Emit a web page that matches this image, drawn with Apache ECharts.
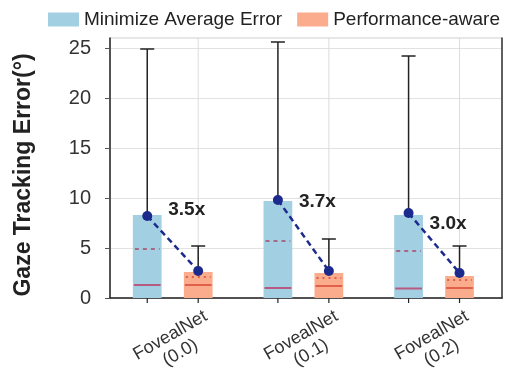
<!DOCTYPE html>
<html>
<head>
<meta charset="utf-8">
<script src="https://cdn.jsdelivr.net/npm/echarts@6/dist/echarts.min.js"></script>
<style>html,body{margin:0;padding:0;background:#fff}#chart{width:510px;height:374px}</style>
</head>
<body>
<div id="chart"></div>
<script>
// ---- data ----
const categories = ['FovealNet\n(0.0)', 'FovealNet\n(0.1)', 'FovealNet\n(0.2)'];
const seriesNames = ['Minimize Average Error', 'Performance-aware'];
const yTicks = [0, 5, 10, 15, 20, 25];

// Minimize Average Error
const avgBoxTop = [8.3, 9.7, 8.3];
const avgWhiskerMax = [24.9, 25.6, 24.2];
const avgMedian = [1.3, 1.0, 0.95];
const avgMean = [4.9, 5.7, 4.7];
const avgMarker = [8.2, 9.8, 8.5];

// Performance-aware
const perfBoxTop = [2.6, 2.5, 2.2];
const perfWhiskerMax = [5.2, 5.9, 5.2];
const perfMedian = [1.3, 1.2, 1.0];
const perfMean = [2.1, 2.0, 1.8];
const perfMarker = [2.7, 2.7, 2.5];

// improvement annotations
const ratioLabels = ['3.5x', '3.7x', '3.0x'];
const ratioLabelY = [8.8, 9.6, 7.4];

// ---- rendering ----
const FONT = 'Liberation Sans, Arial, sans-serif';
const BLUE = '#a3cfe2', ORANGE = '#fbac8d', NAVY = '#1b2a8c';
const BLUE_OFF = -0.215, ORANGE_OFF = 0.175, BAR_FRAC = 0.22;

function boxRender(offsetFrac, fill, medColor, meanColor, meanDash, drawGrid) {
  return function (params, api) {
    const i = api.value(0);
    const base = api.coord([i, 0]);
    const bw = api.size([1, 0])[0];
    const cx = base[0] + offsetFrac * bw;
    const w = bw * BAR_FRAC;
    const yTop = api.coord([i, api.value(1)])[1];
    const yMax = api.coord([i, api.value(2)])[1];
    const yMed = api.coord([i, api.value(3)])[1];
    const yMean = api.coord([i, api.value(4)])[1];
    const cs = params.coordSys;
    const ch = [];
    if (drawGrid) {
      ch.push({type: 'line', shape: {x1: cx, y1: cs.y, x2: cx, y2: cs.y + cs.height},
        style: {stroke: '#dcdcdc', lineWidth: 1}});
    }
    ch.push({type: 'line', shape: {x1: cx, y1: yTop, x2: cx, y2: yMax}, style: {stroke: '#222', lineWidth: 1.5}});
    ch.push({type: 'line', shape: {x1: cx - 7, y1: yMax, x2: cx + 7, y2: yMax}, style: {stroke: '#222', lineWidth: 1.5}});
    ch.push({type: 'rect', shape: {x: cx - w / 2, y: yTop, width: w, height: base[1] - yTop}, style: {fill: fill}});
    ch.push({type: 'line', shape: {x1: cx - w / 2 + 1, y1: yMed, x2: cx + w / 2 - 1, y2: yMed}, style: {stroke: medColor, lineWidth: 2}});
    ch.push({type: 'line', shape: {x1: cx - w / 2 + 2, y1: yMean, x2: cx + w / 2 - 2, y2: yMean}, style: {stroke: meanColor, lineWidth: 2, lineDash: meanDash}});
    ch.push({type: 'line', shape: {x1: cx, y1: base[1], x2: cx, y2: base[1] + 5}, style: {stroke: '#222', lineWidth: 1.2}});
    return {type: 'group', children: ch};
  };
}

function connectorRender(params, api) {
  const i = api.value(0);
  const bw = api.size([1, 0])[0];
  const p1 = api.coord([i, api.value(1)]);
  const p2 = api.coord([i, api.value(2)]);
  const pl = api.coord([i, api.value(3)]);
  const x1 = p1[0] + BLUE_OFF * bw, x2 = p2[0] + ORANGE_OFF * bw;
  return {type: 'group', children: [
    {type: 'line', shape: {x1: x1, y1: p1[1], x2: x2, y2: p2[1]}, style: {stroke: NAVY, lineWidth: 2.5, lineDash: [6, 4]}},
    {type: 'circle', shape: {cx: x1, cy: p1[1], r: 5}, style: {fill: NAVY}},
    {type: 'circle', shape: {cx: x2, cy: p2[1], r: 5}, style: {fill: NAVY}},
    {type: 'text', x: x1 + 21, y: pl[1], style: {text: ratioLabels[i], fill: '#222',
      font: 'bold 19px ' + FONT, align: 'left', verticalAlign: 'middle'}}
  ]};
}

const avgData = categories.map((c, i) => [i, avgBoxTop[i], avgWhiskerMax[i], avgMedian[i], avgMean[i]]);
const perfData = categories.map((c, i) => [i, perfBoxTop[i], perfWhiskerMax[i], perfMedian[i], perfMean[i]]);
const connData = categories.map((c, i) => [i, avgMarker[i], perfMarker[i], ratioLabelY[i]]);

const chart = echarts.init(document.getElementById('chart'), null, {renderer: 'canvas'});
chart.setOption({
  animation: false,
  textStyle: {fontFamily: FONT},
  legend: {
    data: seriesNames, left: 43, top: 5, icon: 'rect', itemWidth: 31, itemHeight: 14, itemGap: 15,
    textStyle: {fontSize: 19, color: '#222', fontFamily: FONT}, selectedMode: false
  },
  grid: {left: 110, right: 8, top: 38, bottom: 76, show: true, borderColor: '#cfcfcf', borderWidth: 1,
    containLabel: false, outerBoundsMode: 'none'},
  xAxis: {
    type: 'category', data: categories,
    axisLine: {lineStyle: {color: '#222', width: 1.5}},
    axisTick: {show: false},
    axisLabel: {rotate: 30, fontSize: 18, color: '#333', align: 'center', verticalAlign: 'middle', margin: 46, lineHeight: 20}
  },
  yAxis: [{
    type: 'value', min: 0, max: 26, interval: 5,
    name: 'Gaze Tracking Error(°)', nameLocation: 'middle', nameGap: 75,
    nameTextStyle: {fontSize: 23, fontWeight: 'bold', color: '#222', padding: [0, 14, 0, 0]},
    axisLine: {show: true, lineStyle: {color: '#222', width: 1.5}},
    axisTick: {show: true, length: 5, lineStyle: {color: '#555'}, customValues: yTicks},
    axisLabel: {fontSize: 20, color: '#333', margin: 19, customValues: yTicks},
    splitLine: {lineStyle: {color: '#e2e2e2'}}
  }, {
    type: 'value', min: 0, max: 26, position: 'right',
    axisLine: {show: true, lineStyle: {color: '#333', width: 1.5}},
    axisTick: {show: false}, axisLabel: {show: false}, splitLine: {show: false}
  }],
  series: [{
    name: seriesNames[0], type: 'custom', silent: true, itemStyle: {color: BLUE},
    renderItem: boxRender(BLUE_OFF, BLUE, '#b65a82', '#a56a86', [4, 4], false),
    data: avgData, encode: {x: 0, y: [1, 2]}, z: 2
  }, {
    name: seriesNames[1], type: 'custom', silent: true, itemStyle: {color: ORANGE},
    renderItem: boxRender(ORANGE_OFF, ORANGE, '#e0604a', '#d9604a', [2, 4], true),
    data: perfData, encode: {x: 0, y: [1, 2]}, z: 2
  }, {
    name: 'connector', type: 'custom', silent: true,
    renderItem: connectorRender, data: connData, encode: {x: 0, y: [1, 2]}, z: 5
  }]
});
</script>
</body>
</html>
